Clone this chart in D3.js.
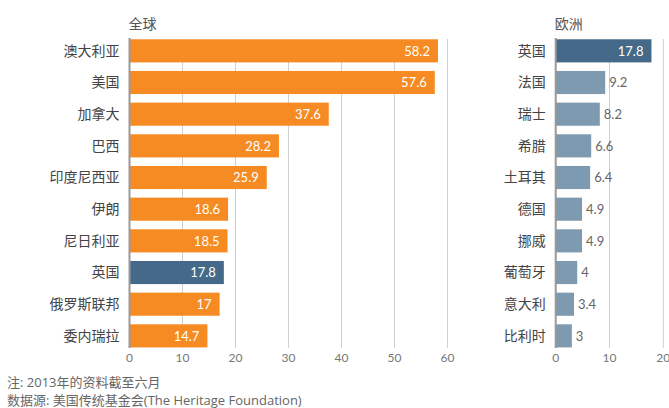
<!DOCTYPE html>
<html><head><meta charset="utf-8">
<script src="https://cdn.jsdelivr.net/npm/d3@7"></script>
<style>
html,body{margin:0;padding:0;background:#fff;}
text{font-family:Lato,"Noto Sans CJK SC",sans-serif;}
</style></head>
<body>
<svg id="chart" width="669" height="408"></svg>
<script>
const globalCountries = ["澳大利亚","美国","加拿大","巴西","印度尼西亚","伊朗","尼日利亚","英国","俄罗斯联邦","委内瑞拉"];
const globalValues = [58.2,57.6,37.6,28.2,25.9,18.6,18.5,17.8,17,14.7];
const europeCountries = ["英国","法国","瑞士","希腊","土耳其","德国","挪威","葡萄牙","意大利","比利时"];
const europeValues = [17.8,9.2,8.2,6.6,6.4,4.9,4.9,4,3.4,3];
const globalTicks = [0,10,20,30,40,50,60];
const europeTicks = [0,10,20];
const panelTitles = ["全球","欧洲"];
const notes = ["注: 2013年的资料截至六月","数据源: 美国传统基金会(The Heritage Foundation)"];

const svg = d3.select("#chart");
const ORANGE="#F58B22", DARK="#456A89", LIGHT="#7D9AB0";

function panel(cats, vals, ticks, x0, x1, dmax, title, labelOutside){
  const g = svg.append("g");
  const y = d3.scaleBand().domain(cats).range([35,351.7]).paddingInner(0.27).paddingOuter(0.135);
  const x = d3.scaleLinear().domain([0,dmax]).range([x0,x1]);
  g.selectAll("line.grid").data(ticks.filter(t=>t>0)).join("line")
    .attr("x1",d=>x(d)).attr("x2",d=>x(d)).attr("y1",39).attr("y2",348)
    .attr("stroke","#cfcfcf").attr("stroke-width",1);
  g.selectAll("text.tick").data(ticks).join("text")
    .attr("x",d=>x(d)).attr("y",362).attr("text-anchor","middle")
    .attr("font-size",12).attr("fill","#777").text(d=>d);
  const data = cats.map((c,i)=>({c,v:vals[i]}));
  g.selectAll("rect").data(data).join("rect")
    .attr("x",x(0)).attr("y",d=>y(d.c)).attr("height",y.bandwidth())
    .attr("width",d=>x(d.v)-x(0))
    .attr("fill",d=> d.c==="英国" ? DARK : (labelOutside? LIGHT : ORANGE));
  g.append("line").attr("x1",x(0)).attr("x2",x(0)).attr("y1",38).attr("y2",348)
    .attr("stroke","#999").attr("stroke-width",2);
  g.selectAll("text.cat").data(data).join("text")
    .attr("x",x(0)-10).attr("y",d=>y(d.c)+y.bandwidth()/2).attr("dy","0.35em")
    .attr("text-anchor","end").attr("font-size",14).attr("fill","#444").text(d=>d.c);
  g.selectAll("text.val").data(data).join("text")
    .attr("x",d=> (labelOutside && d.c!=="英国") ? x(d.v)+4 : x(d.v)-8)
    .attr("y",d=>y(d.c)+y.bandwidth()/2).attr("dy","0.36em")
    .attr("text-anchor",d=> (labelOutside && d.c!=="英国") ? "start" : "end")
    .attr("font-size",13)
    .attr("fill",d=> (labelOutside && d.c!=="英国") ? "#666" : "#fff")
    .text(d=>d.v);
  g.append("text").attr("x",x0-1).attr("y",29).attr("font-size",14).attr("fill","#555").text(title);
}

panel(globalCountries, globalValues, globalTicks, 129.5, 447.5, 60, panelTitles[0], false);
panel(europeCountries, europeValues, europeTicks, 555.7, 663.3, 20, panelTitles[1], true);

svg.selectAll("text.note").data(notes).join("text")
  .attr("x",7).attr("y",(d,i)=>387+i*18).attr("font-size",13)
  .style("font-family","'Open Sans','Noto Sans CJK SC',sans-serif")
  .attr("fill","#666").text(d=>d);
</script>
</body></html>
